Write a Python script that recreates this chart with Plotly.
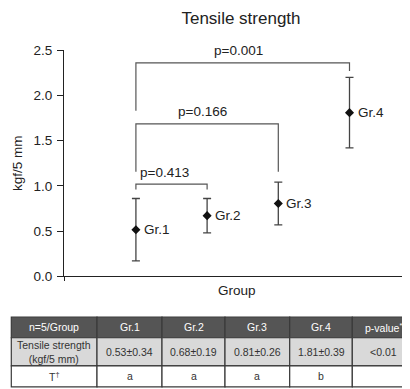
import plotly.graph_objects as go

W, H = 410, 389
FONT = "Liberation Sans, Arial, sans-serif"

# ---- data ----
groups = ["Gr.1", "Gr.2", "Gr.3", "Gr.4"]
group_pos = [1, 2, 3, 4]
plot_means = [0.515, 0.67, 0.805, 1.81]
plot_err = [0.345, 0.19, 0.237, 0.39]

# significance brackets
br_left = [1, 1, 1]
br_right = [2, 3, 4]
br_top = [1.02, 1.685, 2.36]
br_left_bottom = [0.96, 1.155, 1.83]
br_right_bottom = [0.96, 1.155, 2.27]
br_text = ["p=0.413", "p=0.166", "p=0.001"]
br_xshift = [-7, -5, -4]

# table
tbl_header = ["n=5/Group", "Gr.1", "Gr.2", "Gr.3", "Gr.4", "p-value<sup>*</sup>"]
tbl_means = [0.53, 0.68, 0.81, 1.81]
tbl_sds = [0.34, 0.19, 0.26, 0.39]
tbl_letters = ["a", "a", "a", "b"]
tbl_row_labels = ["Tensile strength<br>(kgf/5 mm)", "T<sup>†</sup>"]
tbl_pvalue = ["&lt;0.01", ""]

yticks = [0.0, 0.5, 1.0, 1.5, 2.0, 2.5]

# table layout (pixels)
col_edges = [3.3, 89, 154, 217, 281.7, 344.3, 406.7]
row_edges = [314.3, 335.7, 365, 386.7]
row_fills = ["#555555", "#d9d9d9", "#ffffff"]
row_font_colors = ["#ffffff", "#333333", "#333333"]

fig = go.Figure()

# brackets
for l, r, t, lb, rb in zip(br_left, br_right, br_top, br_left_bottom, br_right_bottom):
    fig.add_trace(go.Scatter(
        x=[l, l, r, r], y=[lb, t, t, rb], mode="lines",
        line=dict(color="#555555", width=1.2), hoverinfo="skip", showlegend=False))

# points with error bars
fig.add_trace(go.Scatter(
    x=group_pos, y=plot_means, mode="markers",
    marker=dict(symbol="diamond", size=7, color="#111111"),
    error_y=dict(type="data", array=plot_err, visible=True,
                 color="#444444", thickness=1.3, width=4),
    showlegend=False))

annotations = []
for g, x, y in zip(groups, group_pos, plot_means):
    annotations.append(dict(x=x, y=y, xref="x", yref="y", text=g, showarrow=False,
                            xanchor="left", yanchor="middle", xshift=6,
                            font=dict(family=FONT, size=13.5, color="#222222")))
for l, r, t, txt, xs in zip(br_left, br_right, br_top, br_text, br_xshift):
    annotations.append(dict(x=(l + r) / 2, y=t, xref="x", yref="y", text=txt,
                            showarrow=False, xanchor="center", yanchor="middle",
                            xshift=xs, yshift=12,
                            font=dict(family=FONT, size=13.5, color="#222222")))
# axis titles
annotations.append(dict(x=9 / W, y=1 - 154 / H, xref="paper", yref="paper",
                        text="kgf/5 mm", textangle=-90, showarrow=False,
                        xanchor="center", yanchor="middle",
                        font=dict(family=FONT, size=13.5, color="#222222")))
annotations.append(dict(x=229 / W, y=1 - 287 / H, xref="paper", yref="paper",
                        text="Group", showarrow=False,
                        xanchor="center", yanchor="middle",
                        font=dict(family=FONT, size=13.5, color="#222222")))

# table content
table_rows = [tbl_header,
              [tbl_row_labels[0]] + [f"{m:.2f}±{s:.2f}" for m, s in zip(tbl_means, tbl_sds)] + [tbl_pvalue[0]],
              [tbl_row_labels[1]] + tbl_letters + [tbl_pvalue[1]]]

shapes = []
for ri, row in enumerate(table_rows):
    y0, y1 = row_edges[ri], row_edges[ri + 1]
    for ci, txt in enumerate(row):
        x0, x1 = col_edges[ci], col_edges[ci + 1]
        shapes.append(dict(type="rect", xref="paper", yref="paper",
                           x0=x0 / W, x1=x1 / W, y0=1 - y1 / H, y1=1 - y0 / H,
                           fillcolor=row_fills[ri],
                           line=dict(color="#3a3a3a", width=1.2), layer="below"))
        if txt:
            annotations.append(dict(x=(x0 + x1) / 2 / W, y=1 - (y0 + y1) / 2 / H,
                                    xref="paper", yref="paper", text=txt,
                                    showarrow=False, xanchor="center", yanchor="middle",
                                    font=dict(family=FONT, size=10.5,
                                              color=row_font_colors[ri])))

fig.update_layout(
    width=W, height=H,
    margin=dict(l=0, r=0, t=0, b=0),
    paper_bgcolor="white", plot_bgcolor="white",
    title=dict(text="Tensile strength", x=233 / W, y=1 - 10 / H,
               xanchor="center", yanchor="middle",
               font=dict(family=FONT, size=17, color="#222222")),
    xaxis=dict(domain=[56 / W, 407 / W], range=[-0.01, 4.92],
               showgrid=False, zeroline=False, showline=True,
               linecolor="#222222", linewidth=1.2,
               tickmode="array", tickvals=[-0.01, 4.92], showticklabels=False,
               ticks="outside", ticklen=4, tickcolor="#222222", tickwidth=1.2),
    yaxis=dict(domain=[1 - 271.7 / H, 1 - 36.7 / H], range=[0, 2.5],
               showgrid=False, zeroline=False, showline=True,
               linecolor="#222222", linewidth=1.2,
               tickmode="array", tickvals=yticks,
               ticktext=[f"{v:.1f}" for v in yticks],
               ticks="outside", ticklen=6, tickcolor="#222222", tickwidth=1.2,
               ticklabelstandoff=2,
               tickfont=dict(family=FONT, size=13.5, color="#222222")),
    annotations=annotations,
    shapes=shapes,
    font=dict(family=FONT),
)

fig.write_html("out.html")
